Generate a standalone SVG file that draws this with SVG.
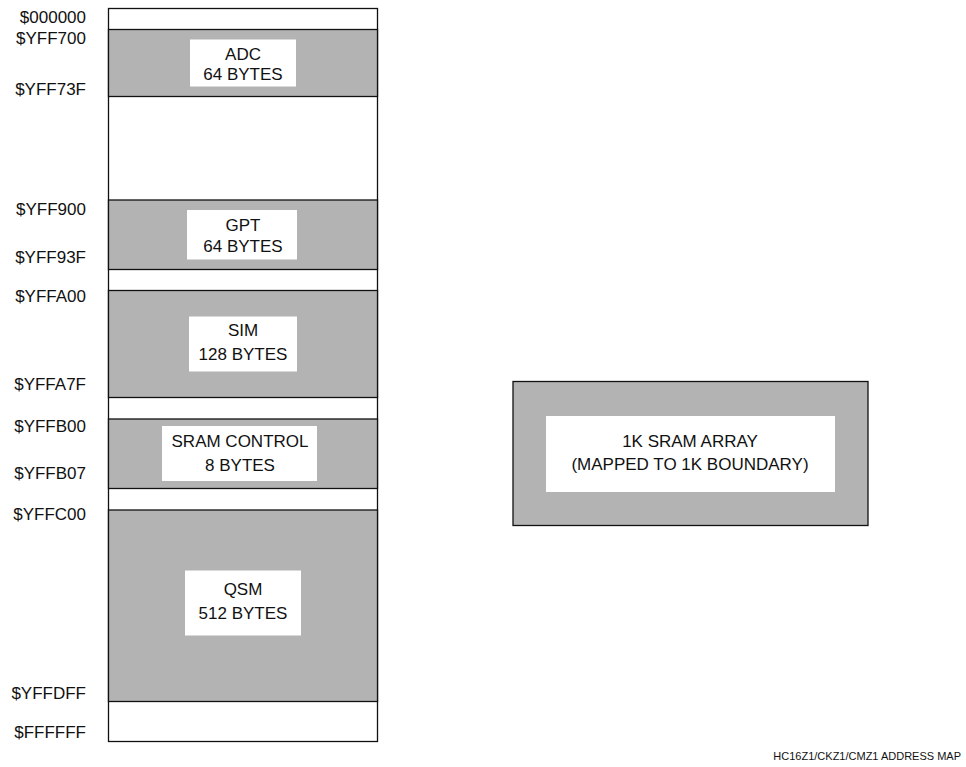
<svg xmlns="http://www.w3.org/2000/svg" width="966" height="767" viewBox="0 0 966 767">
<style>
text{font-family:"Liberation Sans",Arial,sans-serif;font-size:17px;fill:#111}
.addr{text-anchor:end}
.lbl{text-anchor:middle}
.band{fill:#b3b3b3;stroke:#111;stroke-width:1.3}
.box{fill:#fff;stroke:none}
.outer{fill:#fff;stroke:#111;stroke-width:1.3}
.foot{font-size:11px;text-anchor:end}
</style>
<rect width="966" height="767" fill="#fff"/>
<g id="memory-map">
<rect class="outer" x="108.5" y="8.5" width="269" height="733"/>
</g>
<g id="adc">
<rect class="band" x="108.5" y="29.5" width="269" height="67"/>
<rect class="box" x="190" y="39.5" width="106" height="47"/>
<text class="lbl" x="243" y="60">ADC</text>
<text class="lbl" x="243" y="80">64 BYTES</text>
</g>
<g id="gpt">
<rect class="band" x="108.5" y="200" width="269" height="69.5"/>
<rect class="box" x="187" y="210" width="110" height="49.5"/>
<text class="lbl" x="243" y="231">GPT</text>
<text class="lbl" x="243" y="251.5">64 BYTES</text>
</g>
<g id="sim">
<rect class="band" x="108.5" y="290.5" width="269" height="107"/>
<rect class="box" x="189" y="316.5" width="108" height="55"/>
<text class="lbl" x="243" y="335.5">SIM</text>
<text class="lbl" x="243" y="360">128 BYTES</text>
</g>
<g id="sram-control">
<rect class="band" x="108.5" y="419" width="269" height="69.5"/>
<rect class="box" x="162" y="426" width="155" height="55"/>
<text class="lbl" x="240" y="446.5">SRAM CONTROL</text>
<text class="lbl" x="240" y="470.5">8 BYTES</text>
</g>
<g id="qsm">
<rect class="band" x="108.5" y="510" width="269" height="191.5"/>
<rect class="box" x="185" y="570.5" width="116" height="65"/>
<text class="lbl" x="243" y="595">QSM</text>
<text class="lbl" x="243" y="619">512 BYTES</text>
</g>
<g id="sram-array">
<rect class="band" x="513" y="381.5" width="355" height="144"/>
<rect class="box" x="546" y="416" width="289" height="76"/>
<text class="lbl" x="690" y="446.5">1K SRAM ARRAY</text>
<text class="lbl" x="690" y="469.5">(MAPPED TO 1K BOUNDARY)</text>
</g>
<g id="addresses">
<text class="addr" x="86" y="22.5">$000000</text>
<text class="addr" x="86" y="43.5">$YFF700</text>
<text class="addr" x="86" y="95">$YFF73F</text>
<text class="addr" x="86" y="215">$YFF900</text>
<text class="addr" x="86" y="262.5">$YFF93F</text>
<text class="addr" x="86" y="301.5">$YFFA00</text>
<text class="addr" x="86" y="390">$YFFA7F</text>
<text class="addr" x="86" y="431.5">$YFFB00</text>
<text class="addr" x="86" y="479">$YFFB07</text>
<text class="addr" x="86" y="520">$YFFC00</text>
<text class="addr" x="86" y="699">$YFFDFF</text>
<text class="addr" x="86" y="738">$FFFFFF</text>
</g>
<g id="connectors"></g>
<text class="foot" x="961" y="760">HC16Z1/CKZ1/CMZ1 ADDRESS MAP</text>
</svg>
